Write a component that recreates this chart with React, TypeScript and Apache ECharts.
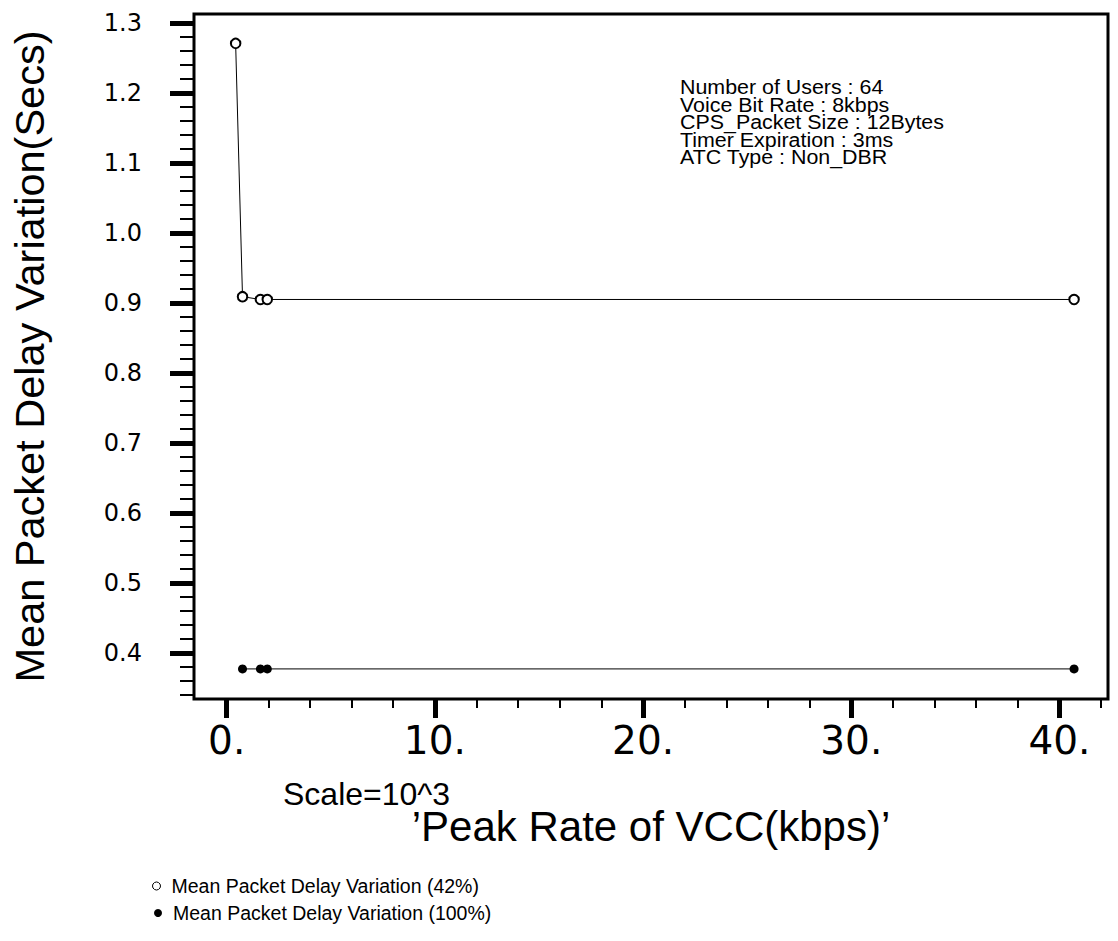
import React, { useEffect, useRef } from "react";
import * as echarts from "echarts";

// ---- data ----
const seriesNames = [
  "Mean Packet Delay Variation (42%)",
  "Mean Packet Delay Variation (100%)",
];
const peakRate42 = [0.43, 0.76, 1.62, 1.95, 40.7];
const delay42 = [1.271, 0.909, 0.905, 0.905, 0.905];
const peakRate100 = [0.76, 1.62, 1.95, 40.7];
const delay100 = [0.377, 0.377, 0.377, 0.377];

const xMajorTicks = [0, 10, 20, 30, 40];
const xMinorTicks = [0, 2, 4, 6, 8, 10, 12, 14, 16, 18, 20, 22, 24, 26, 28, 30, 32, 34, 36, 38, 40, 42];
const yMajorTicks = [0.4, 0.5, 0.6, 0.7, 0.8, 0.9, 1.0, 1.1, 1.2, 1.3];
const yMinorTicks = [
  0.34, 0.36, 0.38, 0.4, 0.42, 0.44, 0.46, 0.48, 0.5, 0.52, 0.54, 0.56, 0.58, 0.6,
  0.62, 0.64, 0.66, 0.68, 0.7, 0.72, 0.74, 0.76, 0.78, 0.8, 0.82, 0.84, 0.86, 0.88,
  0.9, 0.92, 0.94, 0.96, 0.98, 1.0, 1.02, 1.04, 1.06, 1.08, 1.1, 1.12, 1.14, 1.16,
  1.18, 1.2, 1.22, 1.24, 1.26, 1.28, 1.3,
];
const xTitle = "\u2019Peak Rate of VCC(kbps)\u2019";
const yTitle = "Mean Packet Delay Variation(Secs)";
const scaleNote = "Scale=10^3";
const annotationLines = [
  "Number of Users : 64",
  "Voice Bit Rate : 8kbps",
  "CPS_Packet Size : 12Bytes",
  "Timer Expiration : 3ms",
  "ATC Type : Non_DBR",
];

const X_MIN = -1.57;
const X_MAX = 42.33;
const Y_MIN = 0.334;
const Y_MAX = 1.313;
const FONT = "'Liberation Sans', Arial, Helvetica, sans-serif";
const TICK_FONT = "'DejaVu Sans', 'Liberation Sans', Arial, sans-serif";

export default function App() {
  const ref = useRef<HTMLDivElement>(null);

  useEffect(() => {
    if (!ref.current) return;
    const chart = echarts.init(ref.current, undefined, { renderer: "svg" });

    const baseX = {
      type: "value",
      min: X_MIN,
      max: X_MAX,
      position: "bottom",
      axisLine: { show: false, onZero: false },
      splitLine: { show: false },
    };
    const baseY = {
      type: "value",
      min: Y_MIN,
      max: Y_MAX,
      position: "left",
      axisLine: { show: false, onZero: false },
      splitLine: { show: false },
    };

    chart.setOption({
      animation: false,
      backgroundColor: "#fff",
      grid: {
        left: 186,
        top: 14,
        right: 10,
        bottom: 242,
        show: true,
        borderColor: "#000",
        borderWidth: 3,
        backgroundColor: "transparent",
      },
      xAxis: [
        {
          ...baseX,
          axisTick: {
            show: true,
            customValues: xMinorTicks,
            length: 9,
            lineStyle: { color: "#000", width: 2 },
          },
          axisLabel: { show: false },
        },
        {
          ...baseX,
          axisTick: {
            show: true,
            customValues: xMajorTicks,
            length: 19,
            lineStyle: { color: "#000", width: 5 },
          },
          axisLabel: {
            show: true,
            customValues: xMajorTicks,
            formatter: (v: number) => `${v}.`,
            fontSize: 39,
            fontFamily: TICK_FONT,
            color: "#000",
            margin: 22,
          },
          name: xTitle,
          nameLocation: "middle",
          nameGap: 106,
          nameTextStyle: { fontSize: 42, fontFamily: FONT, color: "#000" },
        },
      ],
      yAxis: [
        {
          ...baseY,
          axisTick: {
            show: true,
            customValues: yMinorTicks,
            length: 14,
            lineStyle: { color: "#000", width: 2 },
          },
          axisLabel: { show: false },
        },
        {
          ...baseY,
          axisTick: {
            show: true,
            customValues: yMajorTicks,
            length: 24,
            lineStyle: { color: "#000", width: 5 },
          },
          axisLabel: {
            show: true,
            customValues: yMajorTicks,
            formatter: (v: number) => v.toFixed(1),
            fontSize: 24,
            fontFamily: TICK_FONT,
            color: "#000",
            margin: 52,
          },
          name: yTitle,
          nameLocation: "middle",
          nameGap: 144,
          nameTextStyle: { fontSize: 41.5, fontFamily: FONT, color: "#000" },
        },
      ],
      legend: [
        {
          orient: "vertical",
          left: 147,
          top: 871,
          itemWidth: 20,
          itemHeight: 8,
          selectedMode: false,
          textStyle: { fontSize: 19.5, fontFamily: FONT, color: "#000" },
          data: [
            {
              name: seriesNames[0],
              icon: "circle",
              itemStyle: { color: "#fff", borderColor: "#000", borderWidth: 1 },
            },
          ],
        },
        {
          orient: "vertical",
          left: 149,
          top: 898,
          itemWidth: 20,
          itemHeight: 8,
          selectedMode: false,
          textStyle: { fontSize: 19.5, fontFamily: FONT, color: "#000" },
          data: [
            {
              name: seriesNames[1],
              icon: "circle",
              itemStyle: { color: "#000", borderColor: "#000", borderWidth: 0 },
            },
          ],
        },
      ],
      graphic: [
        {
          type: "text",
          x: 680,
          y: 78,
          scaleX: 1.07,
          style: {
            text: annotationLines.join("\n"),
            fontSize: 20,
            lineHeight: 17.6,
            fontFamily: FONT,
            fill: "#000",
            verticalAlign: "top",
            align: "left",
          },
        },
        {
          type: "text",
          x: 283,
          y: 794,
          style: {
            text: scaleNote,
            fontSize: 32,
            fontFamily: FONT,
            fill: "#000",
            verticalAlign: "middle",
            align: "left",
          },
        },
      ],
      series: [
        {
          type: "line",
          name: seriesNames[0],
          xAxisIndex: 0,
          yAxisIndex: 0,
          data: peakRate42.map((x, i) => [x, delay42[i]]),
          symbol: "emptyCircle",
          symbolSize: 9.5,
          lineStyle: { color: "#000", width: 1 },
          itemStyle: { color: "#000", borderColor: "#000", borderWidth: 1 },
        },
        {
          type: "line",
          name: seriesNames[1],
          xAxisIndex: 0,
          yAxisIndex: 0,
          data: peakRate100.map((x, i) => [x, delay100[i]]),
          symbol: "circle",
          symbolSize: 9,
          lineStyle: { color: "#000", width: 1 },
          itemStyle: { color: "#000" },
        },
      ],
    });

    return () => chart.dispose();
  }, []);

  return (
    <div
      ref={ref}
      style={{ position: "absolute", left: 0, top: 0, width: 1118, height: 941 }}
    />
  );
}
